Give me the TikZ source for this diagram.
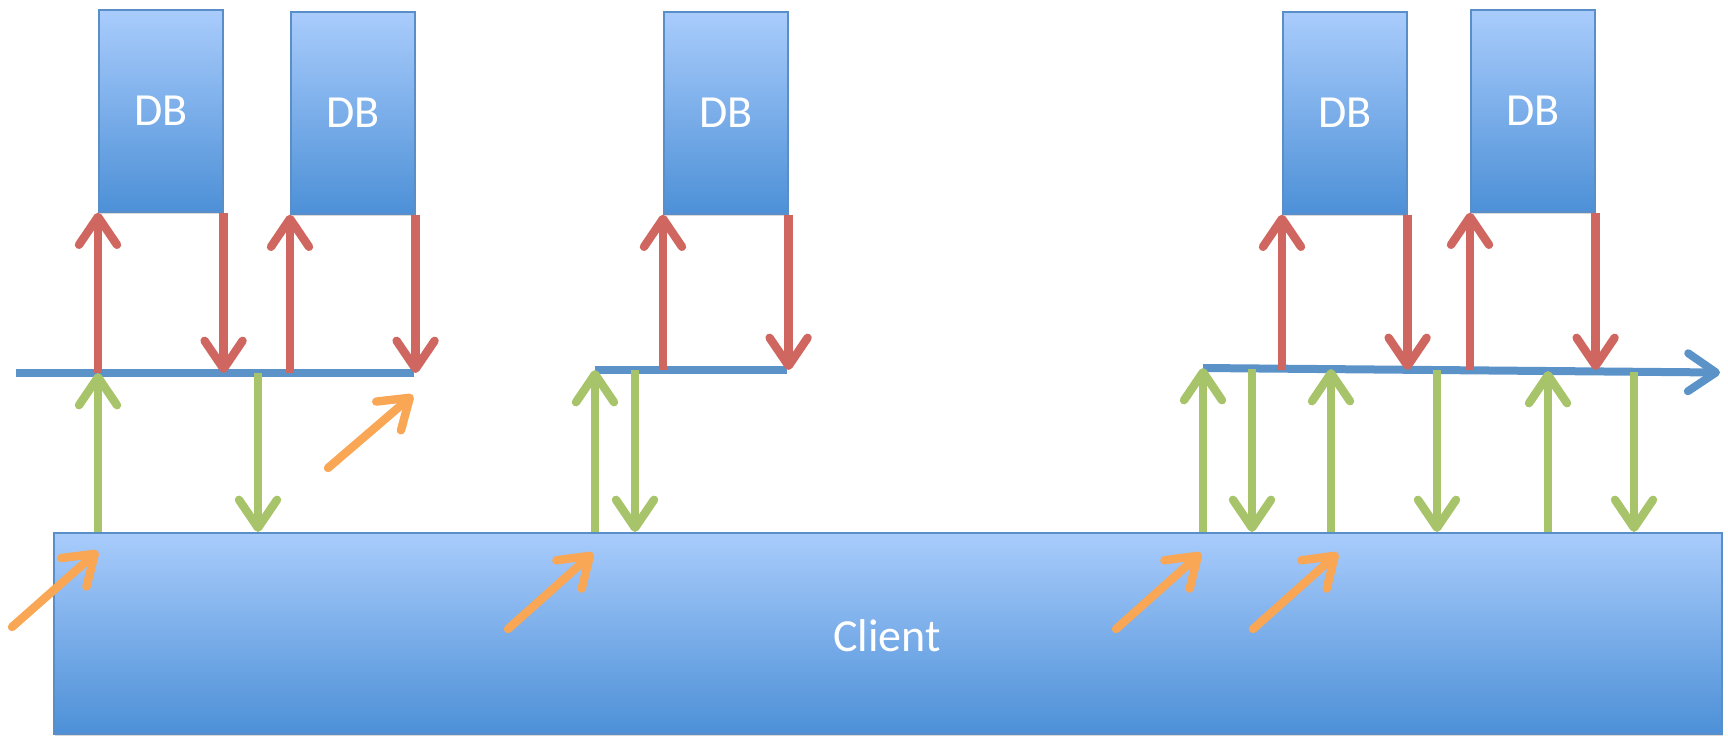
\documentclass[tikz,border=0pt]{standalone}
\usepackage{fontspec}
\setmainfont{Carlito}
\usetikzlibrary{arrows.meta,shadows}
\definecolor{dbtop}{HTML}{A9CCFC}
\definecolor{dbbot}{HTML}{4D90D7}
\definecolor{dbedge}{HTML}{5A8EC9}
\definecolor{barblue}{HTML}{5B93C9}
\definecolor{rd}{HTML}{CF6660}
\definecolor{gr}{HTML}{A8C46A}
\definecolor{orng}{HTML}{F9A655}
\begin{document}
\begin{tikzpicture}[x=0.5pt,y=-0.5pt,
  boxshadow/.style={drop shadow={shadow xshift=0.8pt, shadow yshift=-1.2pt, opacity=0.25, fill=black!60}},
  dbbox/.style={draw=dbedge, line width=0.8pt, top color=dbtop, bottom color=dbbot,
    minimum width=62pt, minimum height=101pt, inner sep=0pt, text=white,
    font=\fontsize{23}{23}\selectfont, anchor=north west, boxshadow},
  clientbox/.style={draw=dbedge, line width=0.8pt, top color=dbtop, bottom color=dbbot,
    minimum width=834pt, minimum height=100.5pt, inner sep=0pt, text=white,
    font=\fontsize{23}{23}\selectfont, anchor=north west, boxshadow},
  tip/.style={-{Straight Barb[length=14pt,width=19pt,round]}},
  barline/.style={draw=barblue, line width=4pt},
  redarr/.style={draw=rd, line width=4.2pt, tip},
  grarr/.style={draw=gr, line width=4.2pt, tip},
  orarr/.style={draw=orng, line width=4.2pt, tip, line cap=round},
]
\useasboundingbox (0,0) rectangle (1728,735);

% client
\node[clientbox] (client) at (53,532) {};
\node[text=white, font=\fontsize{23}{23}\selectfont] (clientlabel) at (887,636) {Client};

% databases
\node[dbbox] (db1) at (98,9) {DB};
\node[dbbox] (db2) at (290,11) {DB};
\node[dbbox] (db3) at (663,11) {DB};
\node[dbbox] (db4) at (1282,11) {DB};
\node[dbbox] (db5) at (1470,9) {DB};

% bars
\coordinate (b1l) at (16,373);
\coordinate (b1r) at (414,373);
\coordinate (b2l) at (595,370);
\coordinate (b2r) at (787,370);
\coordinate (b3l) at (1203,368);
\coordinate (b3r) at (1720,372.5);
\coordinate (b3m) at (1400,370);
\draw[barline] (b1l) -- (b1r);
\draw[barline] (b2l) -- (b2r);
\draw[barline, tip] (b3l) -- (b3r);

% red arrows (bar <-> db)
\foreach \d/\b in {db1/b1l, db2/b1l, db3/b2l, db4/b3m, db5/b3m}{
  \draw[redarr] (\d.south west |- \b) -- (\d.south west);
  \draw[redarr] (\d.south east) -- (\d.south east |- \b);
}

% green arrows (client <-> bar)
\coordinate (g1u) at (98,373);
\coordinate (g1d) at (258,373);
\coordinate (g2u) at (595,370);
\coordinate (g2d) at (635,370);
\coordinate (g3u) at (1203,368);
\coordinate (g3d) at (1252,369);
\coordinate (g4u) at (1331,369);
\coordinate (g4d) at (1437,370);
\coordinate (g5u) at (1548,371);
\coordinate (g5d) at (1634,372);
\foreach \c in {g1u,g2u,g3u,g4u,g5u}{
  \draw[grarr] (\c |- client.north) -- (\c);
}
\foreach \c in {g1d,g2d,g3d,g4d,g5d}{
  \draw[grarr] (\c) -- (\c |- client.north);
}

% orange arrows
\coordinate (o1a) at (12,627);   \coordinate (o1b) at (98,551);
\coordinate (o2a) at (508,629);  \coordinate (o2b) at (593,553);
\coordinate (o3a) at (1116,629); \coordinate (o3b) at (1201,553);
\coordinate (o4a) at (1253,629); \coordinate (o4b) at (1338,553);
\coordinate (o5a) at (328,468);  \coordinate (o5b) at (413,395);
\foreach \i in {1,...,5}{
  \draw[orarr] (o\i a) -- (o\i b);
}
\end{tikzpicture}
\end{document}
